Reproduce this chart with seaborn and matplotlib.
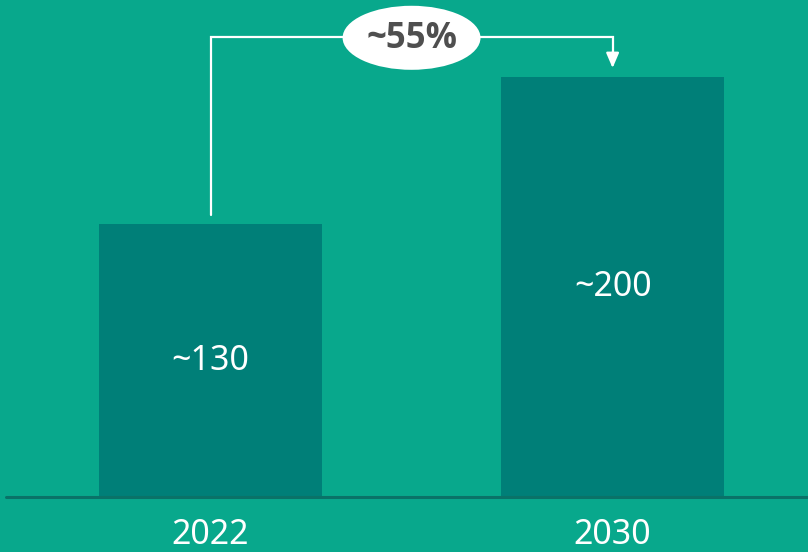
import matplotlib
matplotlib.use("Agg")
import matplotlib.pyplot as plt
from matplotlib.patches import Ellipse
import seaborn as sns
import pandas as pd

years = ["2022", "2030"]
values = [130, 200]
value_labels = ["~130", "~200"]
growth_label = "~55%"

BG = "#08A88C"
BAR = "#007F78"
BASE = "#0A7268"
WHITE = "#FFFFFF"
DARK = "#4F4F4F"

sns.set_theme(style="white")
plt.rcParams["font.family"] = ["Noto Sans", "DejaVu Sans"]

fig = plt.figure(figsize=(8.08, 5.52), dpi=100)
fig.patch.set_facecolor(BG)
ax = fig.add_axes([6 / 808, 55 / 552, 802 / 808, 497 / 552])
ax.set_facecolor(BG)

df = pd.DataFrame({"year": years, "value": values})
sns.barplot(data=df, x="year", y="value", color=BAR, saturation=1,
            width=0.555, edgecolor="none", linewidth=0, ax=ax)

ax.set_xlim(-0.5087, 1.486)
ax.set_ylim(0, 236.7)
for s in ax.spines.values():
    s.set_visible(False)
ax.set_xlabel("")
ax.set_ylabel("")
ax.set_yticks([])
ax.set_xticks([])
ax.axhline(0, color=BASE, lw=2.2, clip_on=False, zorder=5)

# value labels in the middle of bars
for i, (v, lab) in enumerate(zip(values, value_labels)):
    ax.text(i, v / 2, lab, ha="center", va="center", color=WHITE, fontsize=24.5)
    ax.text(i, -18.3, years[i], ha="center", va="center", color=WHITE,
            fontsize=24.5, clip_on=False)

# growth connector
top = max(values) + 19
start = values[0] + 4.3
tip = values[1] + 4.3
ax.plot([0, 0, 1, 1], [start, top, top, tip + 6], color=WHITE, lw=1.6,
        solid_joinstyle="miter", zorder=6)
ax.annotate("", xy=(1, tip), xytext=(1, tip + 7.5),
            arrowprops=dict(arrowstyle="-|>,head_length=0.75,head_width=0.32",
                            color=WHITE, lw=1.6, shrinkA=0, shrinkB=0), zorder=6)
ell = Ellipse((0.5, top - 0.3), width=0.343, height=30.5, facecolor=WHITE,
              edgecolor="none", zorder=7, clip_on=False)
ax.add_patch(ell)
ax.text(0.5, top - 1.0, growth_label, ha="center", va="center", color=DARK,
        fontsize=25, fontweight="bold", family=["Open Sans", "DejaVu Sans"],
        zorder=8)

fig.savefig("out.png", dpi=100, facecolor=BG)
